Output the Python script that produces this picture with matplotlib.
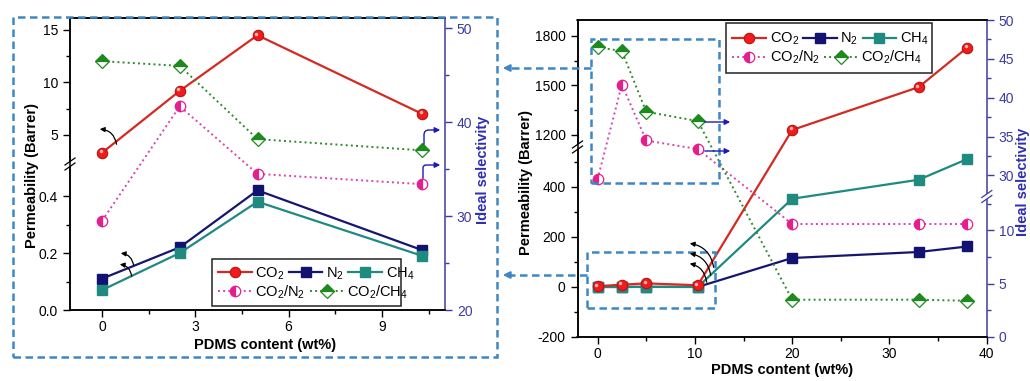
import numpy as np
import matplotlib
matplotlib.use("Agg")
import matplotlib.pyplot as plt
from matplotlib.ticker import FixedLocator, FuncFormatter, NullFormatter
from matplotlib.patches import Rectangle, FancyArrowPatch
from matplotlib.lines import Line2D
from matplotlib.transforms import offset_copy

plt.rcParams['font.family'] = ['Liberation Sans', 'DejaVu Sans']
plt.rcParams['mathtext.fontset'] = 'custom'
plt.rcParams['mathtext.rm'] = 'Liberation Sans'
plt.rcParams['mathtext.it'] = 'Liberation Sans:italic'
plt.rcParams['mathtext.bf'] = 'Liberation Sans:bold'

# PDMS loading (wt%)
pdms = [0, 2.5, 5, 10.3, 20, 33, 38]
n_zoom = 4  # points shown in the enlarged panel

# permeability (Barrer)
perm_co2 = [3.3, 9.2, 14.5, 7.0, 1230, 1490, 1730]
perm_n2 = [0.11, 0.22, 0.42, 0.21, 116, 140, 162]
perm_ch4 = [0.07, 0.20, 0.38, 0.19, 353, 429, 512]

# ideal selectivity
sel_co2_n2 = [29.5, 41.7, 34.5, 33.4, 10.6, 10.6, 10.6]
sel_co2_ch4 = [46.5, 46.0, 38.2, 37.0, 3.5, 3.5, 3.4]

labels = [r'CO$_\mathregular{2}$', r'N$_\mathregular{2}$', r'CH$_\mathregular{4}$',
          r'CO$_\mathregular{2}$/N$_\mathregular{2}$', r'CO$_\mathregular{2}$/CH$_\mathregular{4}$']

W, H = 1030, 381
SEL_COLOR = '#3c3ca0'
BOX_COLOR = '#3f86c4'


def broken(anchors):
    """piecewise linear axis (value -> pixel) with a squeezed gap"""
    v = np.array([a[0] for a in anchors], float)
    p = np.array([a[1] for a in anchors], float)

    def make(a, b):
        def f(x):
            x = np.asarray(x, float)
            y = np.interp(x, a, b)
            y = np.where(x < a[0], b[0] + (x - a[0]) * (b[1] - b[0]) / (a[1] - a[0]), y)
            y = np.where(x > a[-1], b[-1] + (x - a[-1]) * (b[-1] - b[-2]) / (a[-1] - a[-2]), y)
            return y
        return f
    return make(v, p), make(p, v)


def add_break(ax, side, value, fwd, color):
    pos = ax.get_position()
    wpx, hpx = pos.width * W, pos.height * H
    lo, hi = ax.get_ylim()
    yf = (fwd(value) - fwd(lo)) / (fwd(hi) - fwd(lo))
    x0 = 0.0 if side == 'left' else 1.0
    g = 2.5 / hpx
    ax.plot([x0, x0], [yf - g, yf + g], transform=ax.transAxes, color='white',
            lw=3, clip_on=False, zorder=10, solid_capstyle='butt')
    dx, dy = 5 / wpx, 3.5 / hpx
    for off in (-g, g):
        ax.plot([x0 - dx, x0 + dx], [yf + off - dy, yf + off + dy], transform=ax.transAxes,
                color=color, lw=0.9, clip_on=False, zorder=11)


def style_axes(ax, ax2):
    for a in (ax, ax2):
        for s in a.spines.values():
            s.set_linewidth(1.1)
    ax.spines['right'].set_visible(False)
    ax2.spines['right'].set_color(SEL_COLOR)
    ax.tick_params(which='both', direction='out', labelsize=10, right=False, top=False)
    ax.tick_params(which='major', length=5, width=1)
    ax.tick_params(which='minor', length=3, width=1)
    ax.tick_params(axis='x', pad=2.5)
    ax2.tick_params(which='both', direction='out', labelsize=10, colors=SEL_COLOR, left=False)
    ax2.tick_params(which='major', length=5, width=1)
    ax2.tick_params(which='minor', length=3, width=1)


def draw_series(ax, ax2, n):
    x = pdms[:n]
    h = []
    h += ax.plot(x, perm_co2[:n], color='#d42a22', lw=1.6, marker='o', ms=7.5,
                 mfc='#f21a1a', mec='#b51515', mew=0.8, zorder=4)
    # small highlight on the red spheres
    shine = offset_copy(ax.transData, fig=ax.figure, x=-1.5, y=1.5, units='dots')
    ax.plot(x, perm_co2[:n], ls='none', marker='o', ms=2.5, mfc='#ffb4b4', mec='none',
            transform=shine, zorder=4.5)
    h += ax.plot(x, perm_n2[:n], color='#161670', lw=1.6, marker='s', ms=7,
                 mfc='#121270', mec='#121270', zorder=3)
    h += ax.plot(x, perm_ch4[:n], color='#1f8a80', lw=1.6, marker='s', ms=7,
                 mfc='#1f8a80', mec='#1f8a80', zorder=3)
    h += ax2.plot(x, sel_co2_n2[:n], color='#d645ad', lw=1.4, ls=':', marker='o', ms=7.5,
                  fillstyle='left', mfc='#e41e8e', markerfacecoloralt='white', mec='#e41e8e', mew=0.9)
    h += ax2.plot(x, sel_co2_ch4[:n], color='#2f8a2f', lw=1.4, ls=':', marker='D', ms=7,
                  fillstyle='top', mfc='#1e8a1e', markerfacecoloralt='white', mec='#1e8a1e', mew=0.9)
    return h


def draw_legend(ax2, h, x0, y0, x1, y1):
    ax2.add_patch(Rectangle((x0, y0), x1 - x0, y1 - y0, transform=ax2.transAxes,
                            facecolor='white', edgecolor='#222222', lw=1.1, zorder=6))
    kw = dict(frameon=False, fontsize=10.5, handlelength=2.3, handletextpad=0.25,
              columnspacing=0.3, borderpad=0.15, borderaxespad=0)
    midy = (y0 + y1) / 2
    lg1 = ax2.legend(h[:3], labels[:3], ncol=3, loc='lower left',
                     bbox_to_anchor=(x0 + 0.01, midy - 0.005), **kw)
    lg1.set_zorder(7)
    ax2.add_artist(lg1)
    lg2 = ax2.legend(h[3:], labels[3:], ncol=2, loc='upper left',
                     bbox_to_anchor=(x0 + 0.01, midy + 0.005), **kw)
    lg2.set_zorder(7)


def fx(x, y):
    return (x / W, 1 - y / H)


fig = plt.figure(figsize=(W / 100, H / 100), dpi=100)

# ---- enlarged low-loading panel ----
axL = fig.add_axes([70 / W, 1 - 310 / H, 375 / W, 292 / H])
axL2 = axL.twinx()
fL = broken([(0, 0), (0.509, 145), (2.52, 149), (15, 280)])
axL.set_yscale('function', functions=fL)
axL.set_ylim(0, 16.14)
axL.set_xlim(-1.03, 11.03)
axL2.set_ylim(20, 51.1)
style_axes(axL, axL2)
axL.xaxis.set_major_locator(FixedLocator([0, 3, 6, 9]))
axL.xaxis.set_minor_locator(FixedLocator([1.5, 4.5, 7.5, 10.5]))
axL.yaxis.set_major_locator(FixedLocator([0, 0.2, 0.4, 5, 10, 15]))
axL.yaxis.set_minor_locator(FixedLocator([0.1, 0.3, 7.5, 12.5]))
axL.yaxis.set_major_formatter(FuncFormatter(lambda v, p: '%.1f' % v if v < 1 else '%d' % v))
axL.yaxis.set_minor_formatter(NullFormatter())
axL2.yaxis.set_major_locator(FixedLocator([20, 30, 40, 50]))
axL2.yaxis.set_minor_locator(FixedLocator([25, 35, 45]))
hL = draw_series(axL, axL2, n_zoom)
draw_legend(axL2, hL, 0.379, 0.014, 0.883, 0.175)
add_break(axL, 'left', 1.0, fL[0], 'black')

axL.set_xlabel('PDMS content (wt%)', fontsize=10.5, fontweight='bold', va='center')
axL.xaxis.set_label_coords(0.52, -0.12)
axL.set_ylabel('Permeability (Barrer)', fontsize=10.5, fontweight='bold', va='center')
axL.yaxis.set_label_coords(-0.101, 0.462)
axL2.set_ylabel('Ideal selectivity', fontsize=10.5, fontweight='bold', color='#2f2fb0', va='center')
axL2.yaxis.set_label_coords(1.1, 0.48)

# ---- full range panel ----
axR = fig.add_axes([577.5 / W, 1 - 337 / H, 409.3 / W, 317 / H])
axR2 = axR.twinx()
fRp = broken([(-200, 0), (552, 188), (1139, 192), (1800, 301)])
fRs = broken([(0, 0), (13.0, 139), (27.56, 143), (50, 318)])
axR.set_yscale('function', functions=fRp)
axR2.set_yscale('function', functions=fRs)
axR.set_ylim(-200, 1897)
axR2.set_ylim(0, 50)
axR.set_xlim(-2.06, 40)
style_axes(axR, axR2)
axR.xaxis.set_major_locator(FixedLocator([0, 10, 20, 30, 40]))
axR.xaxis.set_minor_locator(FixedLocator([5, 15, 25, 35]))
axR.yaxis.set_major_locator(FixedLocator([-200, 0, 200, 400, 1200, 1500, 1800]))
axR.yaxis.set_minor_locator(FixedLocator([-100, 100, 300, 500, 1350, 1650]))
axR.yaxis.set_major_formatter(FuncFormatter(lambda v, p: '%d' % v))
axR.yaxis.set_minor_formatter(NullFormatter())
axR2.yaxis.set_major_locator(FixedLocator([0, 5, 10, 30, 35, 40, 45, 50]))
axR2.yaxis.set_minor_locator(FixedLocator([2.5, 7.5, 12.5, 32.5, 37.5, 42.5, 47.5]))
axR2.yaxis.set_major_formatter(FuncFormatter(lambda v, p: '%d' % v))
axR2.yaxis.set_minor_formatter(NullFormatter())
hR = draw_series(axR, axR2, len(pdms))
draw_legend(axR2, hR, 0.363, 0.833, 0.866, 0.99)
add_break(axR, 'left', 850, fRp[0], 'black')
add_break(axR2, 'right', 20, fRs[0], SEL_COLOR)

axR.set_xlabel('PDMS content (wt%)', fontsize=10.5, fontweight='bold', va='center')
axR.xaxis.set_label_coords(0.499, -0.103)
axR.set_ylabel('Permeability (Barrer)', fontsize=10.5, fontweight='bold', va='center')
axR.yaxis.set_label_coords(-0.127, 0.486)
axR2.set_ylabel('Ideal selectivity', fontsize=10.5, fontweight='bold', color='#2f2fb0', va='center')
axR2.yaxis.set_label_coords(1.088, 0.489)

# ---- dashed frames and pointers ----
dash = (0, (3, 1.8))


def frame(x0, y0, x1, y1):
    fig.add_artist(Rectangle(fx(x0, y1), (x1 - x0) / W, (y1 - y0) / H, transform=fig.transFigure,
                             fill=False, edgecolor=BOX_COLOR, lw=1.8, linestyle=dash, zorder=20))


frame(13, 17, 497, 357)
frame(590.5, 39, 719, 183)
frame(587, 252, 715, 308)

for (xa, ya) in [(591, 68), (587, 275)]:
    fig.add_artist(Line2D([xa / W, 509 / W], [1 - ya / H, 1 - ya / H], transform=fig.transFigure,
                          color=BOX_COLOR, lw=1.8, linestyle=dash, zorder=20))
    fig.add_artist(FancyArrowPatch(fx(511, ya), fx(500, ya), transform=fig.transFigure,
                                   arrowstyle='-|>', mutation_scale=10, color=BOX_COLOR,
                                   lw=1.5, zorder=21))


def arrow(p0, p1, color, style='arc3,rad=0', lw=0.9, ms=7):
    fig.add_artist(FancyArrowPatch(fx(*p0), fx(*p1), transform=fig.transFigure,
                                   arrowstyle='-|>', connectionstyle=style, mutation_scale=ms,
                                   color=color, lw=lw, zorder=22))


# axis pointers, enlarged panel
arrow((117, 147), (97, 129), 'black', 'arc3,rad=0.45')
arrow((134, 268), (118, 253), 'black', 'arc3,rad=0.45')
arrow((132, 279), (117, 264), 'black', 'arc3,rad=0.45')
arrow((424, 147), (443, 130), '#1a1ab8', 'angle,angleA=90,angleB=0,rad=5', lw=1.0, ms=8)
arrow((423, 181), (443, 165), '#1a1ab8', 'angle,angleA=90,angleB=0,rad=3', lw=1.0, ms=8)

# axis pointers, full panel
arrow((714, 270), (687, 243), 'black', 'arc3,rad=0.4')
arrow((711, 278), (687, 253), 'black', 'arc3,rad=0.4')
arrow((707, 285), (687, 263), 'black', 'arc3,rad=0.4')
arrow((702, 122), (733, 122), '#1a1ab8', lw=1.0, ms=8)
arrow((702, 151), (733, 151), '#1a1ab8', lw=1.0, ms=8)

fig.savefig('out.png', dpi=100)
